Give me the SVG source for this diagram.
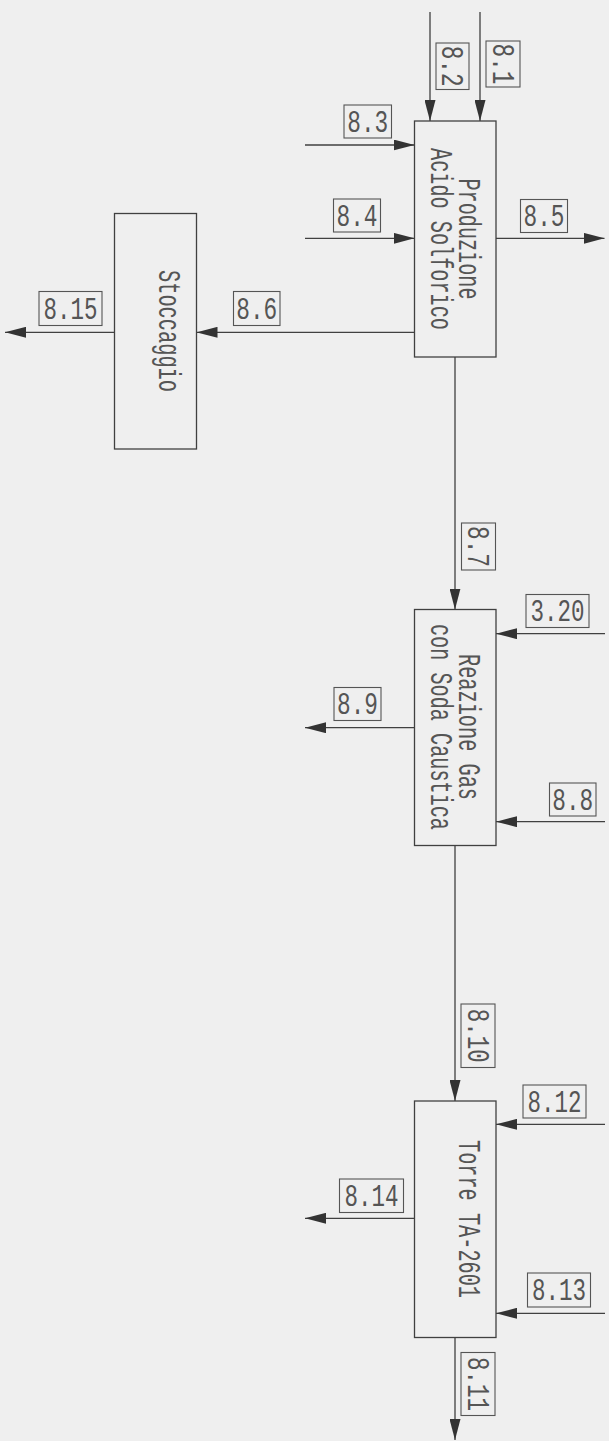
<svg xmlns="http://www.w3.org/2000/svg" width="609" height="1441" viewBox="0 0 609 1441">
<defs>
<style>
.bg{fill:#efefef}
.node{fill:none;stroke:#404040;stroke-width:1.3}
.lbl{fill:none;stroke:#555;stroke-width:1.1}
.t,.nt{font-family:"Liberation Mono","DejaVu Sans Mono",monospace;font-size:31px;fill:#555;text-anchor:middle}
.c{fill:none;stroke:#404040;stroke-width:1.3}
</style>
<marker id="ah" markerUnits="userSpaceOnUse" markerWidth="21" markerHeight="11" refX="21" refY="5.5" orient="auto">
<path d="M0,0 L21,5.5 L0,11 z" fill="#333"/>
</marker>
</defs>
<rect class="bg" x="0" y="0" width="609" height="1441"/>

<g id="connectors">
<path class="c" d="M480,12 V121" marker-end="url(#ah)"/>
<path class="c" d="M430,12 V121" marker-end="url(#ah)"/>
<path class="c" d="M305,145 H414.5" marker-end="url(#ah)"/>
<path class="c" d="M305,238.3 H414.5" marker-end="url(#ah)"/>
<path class="c" d="M496,238.3 H604.5" marker-end="url(#ah)"/>
<path class="c" d="M414.5,332.3 H196.5" marker-end="url(#ah)"/>
<path class="c" d="M114.5,332.3 H5" marker-end="url(#ah)"/>
<path class="c" d="M455,357 V609.5" marker-end="url(#ah)"/>
<path class="c" d="M605,633.7 H496" marker-end="url(#ah)"/>
<path class="c" d="M414.5,727.7 H305" marker-end="url(#ah)"/>
<path class="c" d="M605,821.7 H496" marker-end="url(#ah)"/>
<path class="c" d="M455,845.5 V1101" marker-end="url(#ah)"/>
<path class="c" d="M605,1124.3 H496" marker-end="url(#ah)"/>
<path class="c" d="M414.5,1218.3 H305" marker-end="url(#ah)"/>
<path class="c" d="M605,1313.3 H496" marker-end="url(#ah)"/>
<path class="c" d="M455,1337.5 V1440" marker-end="url(#ah)"/>
</g>

<g id="labels">
<g id="l81"><rect class="lbl" x="486" y="41" width="34" height="46"/><text class="t" x="492.8" y="64" textLength="41" lengthAdjust="spacingAndGlyphs" transform="rotate(90 492.8 64)">8.1</text></g>
<g id="l82"><rect class="lbl" x="436" y="43" width="33" height="46.5"/><text class="t" x="442.3" y="66.25" textLength="41" lengthAdjust="spacingAndGlyphs" transform="rotate(90 442.3 66.25)">8.2</text></g>
<g id="l83"><rect class="lbl" x="344" y="105" width="47.5" height="33"/><text class="t" x="367.75" y="131.7" textLength="41" lengthAdjust="spacingAndGlyphs">8.3</text></g>
<g id="l84"><rect class="lbl" x="333.5" y="199" width="47" height="33"/><text class="t" x="357" y="225.7" textLength="41" lengthAdjust="spacingAndGlyphs">8.4</text></g>
<g id="l85"><rect class="lbl" x="520.5" y="199.5" width="47" height="33"/><text class="t" x="544" y="226.2" textLength="41" lengthAdjust="spacingAndGlyphs">8.5</text></g>
<g id="l86"><rect class="lbl" x="233.5" y="291.5" width="46.5" height="34"/><text class="t" x="256.75" y="318.7" textLength="41" lengthAdjust="spacingAndGlyphs">8.6</text></g>
<g id="l815"><rect class="lbl" x="39" y="291.5" width="63" height="34"/><text class="t" x="70.5" y="318.7" textLength="54" lengthAdjust="spacingAndGlyphs">8.15</text></g>
<g id="l87"><rect class="lbl" x="461.5" y="523" width="34" height="47"/><text class="t" x="468.3" y="546.5" textLength="41" lengthAdjust="spacingAndGlyphs" transform="rotate(90 468.3 546.5)">8.7</text></g>
<g id="l320"><rect class="lbl" x="526" y="594.5" width="63" height="33"/><text class="t" x="557.5" y="621.2" textLength="54" lengthAdjust="spacingAndGlyphs">3.20</text></g>
<g id="l89"><rect class="lbl" x="334" y="687.5" width="47" height="33"/><text class="t" x="357.5" y="714.2" textLength="41" lengthAdjust="spacingAndGlyphs">8.9</text></g>
<g id="l88"><rect class="lbl" x="549.5" y="783" width="46.5" height="33"/><text class="t" x="572.75" y="809.7" textLength="41" lengthAdjust="spacingAndGlyphs">8.8</text></g>
<g id="l810"><rect class="lbl" x="461" y="1004" width="34" height="63.5"/><text class="t" x="467.8" y="1035.75" textLength="54" lengthAdjust="spacingAndGlyphs" transform="rotate(90 467.8 1035.75)">8.10</text></g>
<g id="l812"><rect class="lbl" x="523" y="1085" width="63" height="33"/><text class="t" x="554.5" y="1111.7" textLength="54" lengthAdjust="spacingAndGlyphs">8.12</text></g>
<g id="l814"><rect class="lbl" x="339.5" y="1179" width="64" height="33.5"/><text class="t" x="371.5" y="1205.95" textLength="54" lengthAdjust="spacingAndGlyphs">8.14</text></g>
<g id="l813"><rect class="lbl" x="527.5" y="1273" width="63" height="34"/><text class="t" x="559" y="1300.2" textLength="54" lengthAdjust="spacingAndGlyphs">8.13</text></g>
<g id="l811"><rect class="lbl" x="461" y="1352.5" width="34" height="63"/><text class="t" x="467.8" y="1384" textLength="54" lengthAdjust="spacingAndGlyphs" transform="rotate(90 467.8 1384)">8.11</text></g>
</g>

<g id="produzione">
<rect class="node" x="414.5" y="121" width="81.5" height="236"/>
<text class="nt" x="459" y="239" textLength="121" lengthAdjust="spacingAndGlyphs" transform="rotate(90 459 239)">Produzione</text>
<text class="nt" x="431" y="239" textLength="182" lengthAdjust="spacingAndGlyphs" transform="rotate(90 431 239)">Acido Solforico</text>
</g>

<g id="stoccaggio">
<rect class="node" x="114.5" y="213.5" width="82" height="235.5"/>
<text class="nt" x="159" y="331" textLength="122" lengthAdjust="spacingAndGlyphs" transform="rotate(90 159 331)">Stoccaggio</text>
</g>

<g id="reazione">
<rect class="node" x="414.5" y="609.5" width="81.5" height="236"/>
<text class="nt" x="459" y="727" textLength="146" lengthAdjust="spacingAndGlyphs" transform="rotate(90 459 727)">Reazione Gas</text>
<text class="nt" x="431" y="727" textLength="206" lengthAdjust="spacingAndGlyphs" transform="rotate(90 431 727)">con Soda Caustica</text>
</g>

<g id="torre">
<rect class="node" x="414.5" y="1101" width="81.5" height="236.5"/>
<text class="nt" x="459" y="1219" textLength="158" lengthAdjust="spacingAndGlyphs" transform="rotate(90 459 1219)">Torre TA-2601</text>
</g>
</svg>
